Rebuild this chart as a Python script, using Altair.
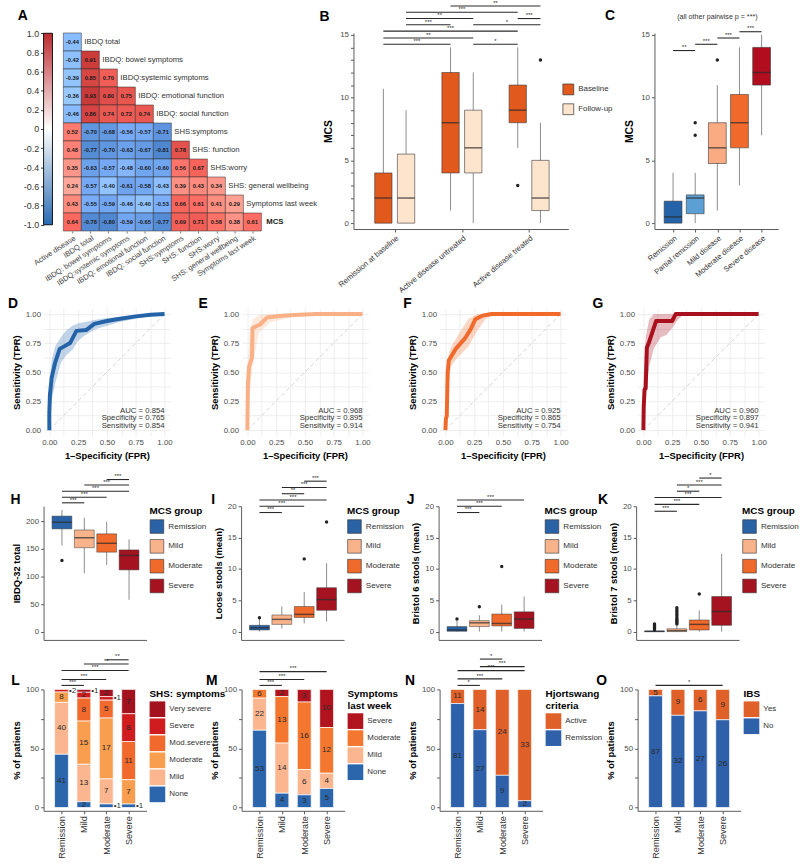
import altair as alt
import pandas as pd

FONT = "Liberation Sans"
INK = "#222222"
TICK_LABEL = "#4d4d4d"
AXIS_LINE = "#5a5a5a"
WHISKER = "#8c8c8c"
BOX_EDGE = "#3a3a3a"
MEDIAN = "#2b2b2b"
SIG = "#2a2a2a"


def lookup_js(names):
    return "[" + ", ".join("'" + n + "'" for n in names) + "]"


def panel_letter(letter, dx, dy):
    """Bold panel tag placed relative to the panel's plot origin."""
    return (alt.Chart(pd.DataFrame({"tag": [letter]}))
            .mark_text(align="left", baseline="alphabetic", fontSize=14, fontWeight="bold", color="black")
            .encode(x=alt.value(dx), y=alt.value(dy), text="tag:N"))


def row_frame(x, y_top, y_bottom):
    """Invisible vertical guide that fixes the left edge and vertical extent of a figure row."""
    return (alt.Chart(pd.DataFrame({"k": [0]}))
            .mark_rule(color="white", strokeWidth=0.5)
            .encode(x=alt.value(x), y=alt.value(y_top), y2=alt.value(y_bottom)))


# ---------------------------------------------------------------- A: correlations
corr_names = ["Active disease", "IBDQ total", "IBDQ: bowel symptoms", "IBDQ:systemic symptoms",
              "IBDQ: emotional function", "IBDQ: social function", "SHS:symptoms", "SHS: function",
              "SHS:worry", "SHS: general wellbeing", "Symptoms last week", "MCS"]
corr_rows = [
    [-0.44],
    [-0.42, 0.91],
    [-0.39, 0.85, 0.70],
    [-0.36, 0.93, 0.80, 0.75],
    [-0.46, 0.86, 0.74, 0.72, 0.74],
    [0.52, -0.70, -0.68, -0.56, -0.57, -0.71],
    [0.48, -0.77, -0.70, -0.63, -0.67, -0.81, 0.78],
    [0.35, -0.63, -0.57, -0.48, -0.60, -0.60, 0.56, 0.67],
    [0.24, -0.57, -0.40, -0.61, -0.58, -0.43, 0.39, 0.43, 0.34],
    [0.43, -0.55, -0.59, -0.46, -0.40, -0.53, 0.66, 0.61, 0.41, 0.29],
    [0.64, -0.78, -0.80, -0.59, -0.65, -0.77, 0.69, 0.71, 0.58, 0.38, 0.61],
]
colorbar_ticks = [-1.0, -0.8, -0.6, -0.4, -0.2, 0.0, 0.2, 0.4, 0.6, 0.8, 1.0]
CORR_BLUE, CORR_WHITE, CORR_RED = "#2b6bb1", "#ffffff", "#bc2c30"

a_cells = pd.DataFrame([{"row": i, "col": j, "r": v, "txt": f"{v:.2f}"}
                        for i, vals in enumerate(corr_rows) for j, v in enumerate(vals)])
a_names = pd.DataFrame({"row": list(range(len(corr_rows))), "name": corr_names[1:]})
a_bar = pd.DataFrame({"lo": [colorbar_ticks[0]], "hi": [colorbar_ticks[-1]]})

col_lookup = lookup_js(corr_names[:-1])
A_X = alt.X("px:Q", scale=alt.Scale(domain=[-1.1, 11.33], nice=False, zero=False),
            axis=alt.Axis(values=[i + 0.5 for i in range(11)],
                          labelExpr=f"{col_lookup}[floor(datum.value)]",
                          labelAngle=-33, labelFontSize=7.5, labelColor="#444444",
                          tickSize=2, tickColor="#777777", domain=False, grid=False,
                          labelPadding=1, labelOverlap=False, labelBound=False),
            title=None)
A_Y = alt.Y("py:Q", scale=alt.Scale(domain=[0, 11], reverse=True, nice=False, zero=False), axis=None)

corr_gradient = alt.LinearGradient(
    gradient="linear",
    stops=[alt.GradientStop(color=CORR_BLUE, offset=0),
           alt.GradientStop(color=CORR_WHITE, offset=0.5),
           alt.GradientStop(color=CORR_RED, offset=1)],
    x1=0, x2=0, y1=1, y2=0)

a_colorbar = (alt.Chart(a_bar)
              .transform_calculate(px="-1.1", px2="-0.605")
              .mark_rect(fill=corr_gradient, stroke="black", strokeWidth=0.9)
              .encode(x=A_X, x2="px2:Q",
                      y=alt.Y("lo:Q", scale=alt.Scale(domain=[-1.065, 1.003], nice=False, zero=False),
                              axis=alt.Axis(orient="left", values=colorbar_ticks,
                                            labelExpr="datum.value == 0 ? '0' : replace(format(datum.value, '.1f'), '\u2212', '-')",
                                            labelFontSize=9, labelColor="#333333", tickSize=3,
                                            tickColor="#333333", domain=False, grid=False, labelPadding=2),
                              title=None),
                      y2="hi:Q"))
a_rects = (alt.Chart(a_cells)
           .transform_calculate(px="datum.col", px2="datum.col + 1", py="datum.row", py2="datum.row + 1")
           .mark_rect(stroke="#2a2a2a", strokeWidth=0.5)
           .encode(x=A_X, x2="px2:Q", y=A_Y, y2="py2:Q",
                   color=alt.Color("r:Q", scale=alt.Scale(domain=[-1, 0, 1], range=[CORR_BLUE, CORR_WHITE, CORR_RED]),
                                   legend=None)))
a_values = (alt.Chart(a_cells)
            .transform_calculate(px="datum.col + 0.5", py="datum.row + 0.5")
            .mark_text(fontSize=5.8, fontWeight="bold", color="#1a1a1a")
            .encode(x=A_X, y=A_Y, text="txt:N"))
a_rowlab = (alt.Chart(a_names)
            .transform_filter("datum.name != 'MCS'")
            .transform_calculate(px="datum.row + 1", py="datum.row + 0.5")
            .mark_text(align="left", dx=3, fontSize=7.8, color="#333333")
            .encode(x=A_X, y=A_Y, text="name:N"))
a_mcslab = (alt.Chart(a_names)
            .transform_filter("datum.name == 'MCS'")
            .transform_calculate(px="datum.row + 1", py="datum.row + 0.5")
            .mark_text(align="left", dx=5, fontSize=7.8, fontWeight="bold", color="#222222")
            .encode(x=A_X, y=A_Y, text="name:N"))
panel_a = (alt.layer(row_frame(-33, -33, 263), a_colorbar, a_rects, a_values, a_rowlab, a_mcslab,
                     panel_letter("A", -26, -13))
           .resolve_scale(y="independent")
           .properties(width=226, height=200))

# ---------------------------------------------------------------- B: MCS by disease course
b_groups = ["Remission at baseline", "Active disease untreated", "Active disease treated"]
b_times = ["Baseline", "Follow-up"]
B_COLORS = ["#e2591d", "#fde4cc"]
b_box_group = ["Remission at baseline", "Remission at baseline",
               "Active disease untreated", "Active disease untreated",
               "Active disease treated", "Active disease treated"]
b_box_time = ["Baseline", "Follow-up", "Baseline", "Follow-up", "Baseline", "Follow-up"]
b_low = [0, 0, 1, 0, 6, 0]
b_q1 = [0, 0, 4, 4, 8, 1]
b_med = [2, 2, 8, 6, 9, 2]
b_q3 = [4, 5.5, 12, 9, 11, 5]
b_high = [10.7, 9, 14, 12, 14, 8]
b_out_group = ["Active disease treated", "Active disease treated"]
b_out_time = ["Baseline", "Follow-up"]
b_out_val = [3, 13]
b_sig = [
    ("Active disease untreated", "Baseline", "Active disease treated", "Follow-up", 17.3, "**"),
    ("Remission at baseline", "Follow-up", "Active disease treated", "Baseline", 16.8, "***"),
    ("Remission at baseline", "Follow-up", "Active disease untreated", "Follow-up", 16.3, "**"),
    ("Active disease treated", "Baseline", "Active disease treated", "Follow-up", 16.3, "***"),
    ("Remission at baseline", "Follow-up", "Active disease untreated", "Baseline", 15.8, "***"),
    ("Active disease untreated", "Follow-up", "Active disease treated", "Follow-up", 15.8, "*"),
    ("Remission at baseline", "Baseline", "Active disease treated", "Baseline", 15.3, "***"),
    ("Remission at baseline", "Baseline", "Active disease untreated", "Follow-up", 14.75, "**"),
    ("Remission at baseline", "Baseline", "Active disease untreated", "Baseline", 14.25, "***"),
    ("Active disease untreated", "Follow-up", "Active disease treated", "Baseline", 14.25, "*"),
]

b_lookup = lookup_js(b_groups)
B_DODGE = 0.169


def b_pos(gf, tf):
    return f"indexof({b_lookup}, datum.{gf}) + 1 + (datum.{tf} == 'Baseline' ? -{B_DODGE} : {B_DODGE})"


B_X = dict(scale=alt.Scale(domain=[0.46, 3.51], nice=False, zero=False),
           axis=alt.Axis(values=[1, 2, 3], labelExpr=f"{b_lookup}[datum.value - 1]", labelAngle=-40,
                         labelFontSize=7.8, labelColor="#333333", tickSize=3, tickColor=AXIS_LINE,
                         domainColor=AXIS_LINE, grid=False, labelPadding=2, labelOverlap=False),
           title=None)


def mcs_y(field, minor):
    vals = list(range(16)) if minor else [0, 5, 10, 15]
    return alt.Y(f"{field}:Q", scale=alt.Scale(domain=[-0.47, 15.15], nice=False, zero=False),
                 axis=alt.Axis(values=vals, labelExpr="datum.value % 5 == 0 ? datum.value : ''",
                               labelFontSize=8, labelColor=TICK_LABEL, tickSize=3, tickColor=AXIS_LINE,
                               domainColor=AXIS_LINE, grid=False, titleFontSize=10.5,
                               titleFontWeight="bold", titlePadding=6, titleColor="black"),
                 title="MCS")


b_stats = pd.DataFrame({"g": b_box_group, "t": b_box_time, "low": b_low, "q1": b_q1,
                        "med": b_med, "q3": b_q3, "high": b_high})
b_base = alt.Chart(b_stats).transform_calculate(pos=b_pos("g", "t"))
b_whisk = b_base.mark_rule(color=WHISKER, strokeWidth=1).encode(
    x=alt.X("pos:Q", **B_X), y=mcs_y("low", True), y2="high:Q")
b_box = b_base.mark_bar(size=17.5, stroke=BOX_EDGE, strokeWidth=0.6, orient="vertical").encode(
    x=alt.X("pos:Q", **B_X), y=mcs_y("q1", True), y2="q3:Q",
    color=alt.Color("t:N", scale=alt.Scale(domain=b_times, range=B_COLORS),
                    legend=alt.Legend(title=None, orient="none", legendX=211, legendY=51,
                                      symbolType="square", symbolSize=120, symbolStrokeColor="#333333",
                                      symbolStrokeWidth=0.7, labelFontSize=8, labelColor="#333333",
                                      rowPadding=6, labelOffset=4)))
b_median = b_base.mark_tick(orient="horizontal", size=17.5, thickness=1.5, color=MEDIAN).encode(
    x=alt.X("pos:Q", **B_X), y=mcs_y("med", True))
b_out = (alt.Chart(pd.DataFrame({"g": b_out_group, "t": b_out_time, "v": b_out_val}))
         .transform_calculate(pos=b_pos("g", "t"))
         .mark_circle(size=12, color=INK, opacity=1)
         .encode(x=alt.X("pos:Q", **B_X), y=mcs_y("v", True)))
b_sig_base = (alt.Chart(pd.DataFrame(b_sig, columns=["g1", "t1", "g2", "t2", "y", "lab"]))
              .transform_calculate(p1=b_pos("g1", "t1"), p2=b_pos("g2", "t2"))
              .transform_calculate(pm="(datum.p1 + datum.p2) / 2"))
b_sig_rule = b_sig_base.mark_rule(color=SIG, strokeWidth=1.1).encode(
    x=alt.X("p1:Q", **B_X), x2="p2:Q", y=mcs_y("y", True))
b_sig_txt = b_sig_base.mark_text(fontSize=6, baseline="bottom", dy=-0.3, color=SIG).encode(
    x=alt.X("pm:Q", **B_X), y=mcs_y("y", True), text="lab:N")
panel_b = (alt.layer(b_whisk, b_box, b_median, b_out, b_sig_rule, b_sig_txt, panel_letter("B", -34.3, -12.3))
           .properties(width=217, height=198))

# ---------------------------------------------------------------- C: MCS by physician global
c_groups = ["Remission", "Partial remission", "Mild disease", "Moderate disease", "Severe disease"]
C_COLORS = ["#2563a8", "#5b9fd5", "#fbab82", "#f26a2b", "#b20d1f"]
c_low = [0, 0, 1, 3, 7]
c_q1 = [0, 0.75, 4.75, 6, 11]
c_med = [0.5, 2, 6, 8, 12]
c_q3 = [1.75, 2.25, 8, 10.25, 14]
c_high = [4, 4, 11, 14, 15]
c_out_group = ["Partial remission", "Partial remission", "Mild disease"]
c_out_val = [7, 8, 13]
c_sig = [
    ("Remission", "Partial remission", 13.75, "**"),
    ("Partial remission", "Mild disease", 14.25, "***"),
    ("Mild disease", "Moderate disease", 14.75, "***"),
    ("Moderate disease", "Severe disease", 15.25, "***"),
]
c_note = "(all other pairwise p = ***)"
c_lookup = lookup_js(c_groups)


def c_pos(f):
    return f"indexof({c_lookup}, datum.{f}) + 1"


C_X = dict(scale=alt.Scale(domain=[0.383, 5.527], nice=False, zero=False),
           axis=alt.Axis(values=[1, 2, 3, 4, 5], labelExpr=f"{c_lookup}[datum.value - 1]", labelAngle=-40,
                         labelFontSize=7.6, labelColor="#333333", tickSize=3, tickColor=AXIS_LINE,
                         domainColor=AXIS_LINE, grid=False, labelPadding=2, labelOverlap=False),
           title=None)
c_stats = pd.DataFrame({"g": c_groups, "low": c_low, "q1": c_q1, "med": c_med, "q3": c_q3, "high": c_high})
c_base = alt.Chart(c_stats).transform_calculate(pos=c_pos("g"))
c_whisk = c_base.mark_rule(color=WHISKER, strokeWidth=1).encode(
    x=alt.X("pos:Q", **C_X), y=mcs_y("low", False), y2="high:Q")
c_box = c_base.mark_bar(size=18, stroke=BOX_EDGE, strokeWidth=0.6, orient="vertical").encode(
    x=alt.X("pos:Q", **C_X), y=mcs_y("q1", False), y2="q3:Q",
    color=alt.Color("g:N", scale=alt.Scale(domain=c_groups, range=C_COLORS), legend=None))
c_median = c_base.mark_tick(orient="horizontal", size=18, thickness=1.5, color=MEDIAN).encode(
    x=alt.X("pos:Q", **C_X), y=mcs_y("med", False))
c_out = (alt.Chart(pd.DataFrame({"g": c_out_group, "v": c_out_val}))
         .transform_calculate(pos=c_pos("g"))
         .mark_circle(size=12, color=INK, opacity=1)
         .encode(x=alt.X("pos:Q", **C_X), y=mcs_y("v", False)))
c_sig_base = (alt.Chart(pd.DataFrame(c_sig, columns=["g1", "g2", "y", "lab"]))
              .transform_calculate(p1=c_pos("g1"), p2=c_pos("g2"))
              .transform_calculate(pm="(datum.p1 + datum.p2) / 2"))
c_sig_rule = c_sig_base.mark_rule(color=SIG, strokeWidth=1.1).encode(
    x=alt.X("p1:Q", **C_X), x2="p2:Q", y=mcs_y("y", False))
c_sig_txt = c_sig_base.mark_text(fontSize=6, baseline="bottom", dy=-0.3, color=SIG).encode(
    x=alt.X("pm:Q", **C_X), y=mcs_y("y", False), text="lab:N")
c_note_txt = (alt.Chart(pd.DataFrame({"note": [c_note]}))
              .transform_calculate(pos="3", yv="16.4")
              .mark_text(fontSize=7.2, color="#333333")
              .encode(x=alt.X("pos:Q", **C_X), y=mcs_y("yv", False), text="note:N"))
panel_c = (alt.layer(c_whisk, c_box, c_median, c_out, c_sig_rule, c_sig_txt, c_note_txt,
                     panel_letter("C", -50, -13))
           .properties(width=125, height=198))

# ---------------------------------------------------------------- D-G: ROC curves
ROC_GRID = [0.0, 0.125, 0.25, 0.375, 0.5, 0.625, 0.75, 0.875, 1.0]

roc_curves = {
    "D": dict(fpr=[0.0, 0.0, 0.005, 0.02, 0.05, 0.09, 0.18, 0.235, 0.32, 0.39, 0.5, 0.6, 0.75, 0.88, 1.0],
              tpr=[0.0, 0.15, 0.30, 0.45, 0.58, 0.70, 0.75, 0.855, 0.862, 0.915, 0.94, 0.957, 0.98, 0.994, 1.0],
              bfpr=[0.0, 0.02, 0.05, 0.1, 0.15, 0.2, 0.25, 0.3, 0.4, 0.5, 0.6, 0.75, 0.9, 1.0],
              blo=[0.0, 0.25, 0.40, 0.58, 0.65, 0.69, 0.77, 0.81, 0.87, 0.9, 0.93, 0.96, 0.985, 1.0],
              bhi=[0.35, 0.6, 0.72, 0.8, 0.86, 0.9, 0.92, 0.93, 0.95, 0.965, 0.975, 0.99, 1.0, 1.0],
              color="#2563a8", auc=0.854, spec=0.765, sens=0.854, dx=-36),
    "E": dict(fpr=[0.0, 0.005, 0.015, 0.04, 0.045, 0.11, 0.17, 0.3, 0.45, 0.6, 1.0],
              tpr=[0.0, 0.40, 0.55, 0.62, 0.88, 0.91, 0.97, 0.986, 0.994, 1.0, 1.0],
              bfpr=[0.0, 0.02, 0.045, 0.1, 0.2, 0.4, 0.6, 1.0],
              blo=[0.0, 0.3, 0.55, 0.84, 0.93, 0.975, 0.99, 1.0],
              bhi=[0.45, 0.85, 0.95, 0.99, 1.0, 1.0, 1.0, 1.0],
              color="#f9b086", auc=0.968, spec=0.895, sens=0.914, dx=-43.5),
    "F": dict(fpr=[0.0, 0.005, 0.012, 0.02, 0.03, 0.09, 0.17, 0.22, 0.26, 0.32, 0.4, 1.0],
              tpr=[0.0, 0.10, 0.12, 0.50, 0.60, 0.70, 0.79, 0.87, 0.955, 0.986, 1.0, 1.0],
              bfpr=[0.0, 0.02, 0.05, 0.1, 0.2, 0.28, 0.35, 0.45, 1.0],
              blo=[0.0, 0.35, 0.55, 0.62, 0.72, 0.86, 0.96, 1.0, 1.0],
              bhi=[0.15, 0.62, 0.72, 0.80, 0.96, 1.0, 1.0, 1.0, 1.0],
              color="#f06a2c", auc=0.925, spec=0.865, sens=0.754, dx=-36.8),
    "G": dict(fpr=[0.0, 0.003, 0.01, 0.02, 0.03, 0.05, 0.11, 0.25, 0.28, 1.0],
              tpr=[0.0, 0.20, 0.35, 0.36, 0.71, 0.76, 0.94, 0.94, 1.0, 1.0],
              bfpr=[0.0, 0.02, 0.05, 0.09, 0.15, 0.2, 0.25, 0.3, 0.35, 1.0],
              blo=[0.0, 0.3, 0.55, 0.7, 0.8, 0.82, 0.88, 0.95, 1.0, 1.0],
              bhi=[0.4, 0.8, 0.95, 1.0, 1.0, 1.0, 1.0, 1.0, 1.0, 1.0],
              color="#a8101e", auc=0.960, spec=0.897, sens=0.941, dx=-45.5),
}


def roc_axis():
    return alt.Axis(values=ROC_GRID, labelExpr="(datum.value * 4) % 1 == 0 ? format(datum.value, '.2f') : ''",
                    grid=True, gridColor="#e6e6e6", gridWidth=0.7, ticks=False, domain=False,
                    labelFontSize=8, labelColor=TICK_LABEL, titleFontSize=9.5, titleFontWeight="bold",
                    titleColor="black", labelFlush=False, labelPadding=3, titlePadding=4)


def roc_panel(letter, spec, first):
    rx = lambda f: alt.X(f"{f}:Q", scale=alt.Scale(domain=[-0.05, 1.05], nice=False, zero=False),
                         axis=roc_axis(), title="1\u2013Specificity (FPR)")
    ry = lambda f: alt.Y(f"{f}:Q", scale=alt.Scale(domain=[-0.05, 1.05], nice=False, zero=False),
                         axis=roc_axis(), title="Sensitivity (TPR)")
    curve = pd.DataFrame({"fpr": spec["fpr"], "tpr": spec["tpr"], "step": list(range(len(spec["fpr"])))})
    band = pd.DataFrame({"fpr": spec["bfpr"], "lo": spec["blo"], "hi": spec["bhi"]})
    chance = pd.DataFrame({"a": [0.0], "b": [1.0]})
    note = pd.DataFrame({"txt": [f"AUC = {spec['auc']:.3f}\nSpecificity = {spec['spec']:.3f}\n"
                                 f"Sensitivity = {spec['sens']:.3f}"]})
    area = alt.Chart(band).mark_area(color=spec["color"], opacity=0.28).encode(
        x=rx("fpr"), y=ry("lo"), y2="hi:Q")
    diag = alt.Chart(chance).mark_rule(color="#c8c8c8", strokeDash=[4, 3], strokeWidth=0.8).encode(
        x=rx("a"), y=ry("a"), x2="b:Q", y2="b:Q")
    line = alt.Chart(curve).mark_line(color=spec["color"], strokeWidth=4, strokeJoin="round").encode(
        x=rx("fpr"), y=ry("tpr"), order="step:Q")
    txt = (alt.Chart(note).transform_calculate(px="1.0", py="0.152")
           .mark_text(align="right", baseline="alphabetic", lineBreak="\n", fontSize=7.8, lineHeight=7.7,
                      color="#333333")
           .encode(x=rx("px"), y=ry("py"), text="txt:N"))
    layers = [diag, area, line, txt, panel_letter(letter, spec["dx"], -0.7)]
    if first:
        layers.insert(0, row_frame(-43.5, -13, 159))
    return alt.layer(*layers).properties(width=128, height=129)


panels_roc = [roc_panel(k, v, i == 0) for i, (k, v) in enumerate(roc_curves.items())]

# ---------------------------------------------------------------- H-K: outcomes by MCS group
MCS_GROUPS = ["Remission", "Mild", "Moderate", "Severe"]
MCS_COLORS = ["#2a62a6", "#f8b38b", "#f06a2c", "#a51321"]
MCS_LOOKUP = lookup_js(MCS_GROUPS)

box_panels = {
    "H": dict(ytitle="IBDQ-32 total", ydom=[-14.3, 226.8], yvals=[0, 50, 100, 150, 200], dx=-33.3,
              low=[156, 106, 121, 58], q1=[186, 152, 144, 112], med=[198, 170, 160, 138],
              q3=[209, 184, 177, 148], high=[220, 206, 199, 167],
              out_g=["Remission"], out_v=[129],
              sig=[("Remission", "Mild", 233, "***"), ("Remission", "Moderate", 243, "***"),
                   ("Remission", "Severe", 254, "***"), ("Mild", "Severe", 265, "***"),
                   ("Moderate", "Severe", 275, "***")]),
    "I": dict(ytitle="Loose stools (mean)", ydom=[-1.33, 20], yvals=[0, 5, 10, 15, 20], dx=-30.2,
              low=[0, 0.5, 1.3, 1.6], q1=[0.25, 1.15, 2.25, 3.4], med=[0.6, 1.95, 2.75, 5.1],
              q3=[1.0, 2.65, 4.0, 7.0], high=[2.0, 4.0, 6.3, 10.9],
              out_g=["Remission", "Moderate", "Severe"], out_v=[2.2, 11.6, 17.5],
              sig=[("Remission", "Mild", 19, "***"), ("Remission", "Moderate", 20, "***"),
                   ("Remission", "Severe", 21, "***"), ("Mild", "Moderate", 22, "**"),
                   ("Mild", "Severe", 23, "***"), ("Moderate", "Severe", 24, "***")]),
    "J": dict(ytitle="Bristol 6 stools (mean)", ydom=[-1.33, 20], yvals=[0, 5, 10, 15, 20], dx=-32.3,
              low=[0, 0, 0, 0], q1=[0.05, 0.8, 0.9, 0.5], med=[0.25, 1.4, 1.3, 2.0],
              q3=[0.8, 1.75, 2.8, 3.15], high=[1.7, 2.6, 4.3, 5.6],
              out_g=["Remission", "Mild", "Moderate"], out_v=[2.0, 3.95, 10.4],
              sig=[("Remission", "Mild", 19, "***"), ("Remission", "Moderate", 20, "***"),
                   ("Remission", "Severe", 21, "***")]),
    "K": dict(ytitle="Bristol 7 stools (mean)", ydom=[-1.33, 20], yvals=[0, 5, 10, 15, 20], dx=-38.5,
              low=[0, 0, 0, 0], q1=[0, 0, 0.25, 1.0], med=[0.03, 0.15, 1.15, 3.2],
              q3=[0.1, 0.45, 1.85, 5.6], high=[0.2, 1.0, 3.4, 12.4],
              out_g=["Remission"] * 7 + ["Mild"] * 11 + ["Moderate"],
              out_v=[0.3, 0.45, 0.6, 0.75, 0.9, 1.05, 1.2,
                     1.2, 1.4, 1.6, 1.8, 2.0, 2.3, 2.6, 2.9, 3.2, 3.5, 3.8, 6.0],
              sig=[("Remission", "Mild", 19.2, "***"), ("Remission", "Moderate", 20.3, "***"),
                   ("Remission", "Severe", 21.4, "***"), ("Mild", "Moderate", 22.4, "*"),
                   ("Mild", "Severe", 23.4, "***"), ("Moderate", "Severe", 24.5, "*")]),
}


def g_pos(f):
    return f"indexof({MCS_LOOKUP}, datum.{f}) + 1"


def mcs_legend(title):
    return alt.Legend(title=title, orient="right", offset=3, titleFontSize=10, titleFontWeight="bold",
                      titleColor="black", labelFontSize=8.2, labelColor="#333333", symbolType="square",
                      symbolSize=190, symbolStrokeColor="#333333", symbolStrokeWidth=0.6,
                      rowPadding=3, titlePadding=3, labelOffset=4)


def box_panel(letter, p, first):
    bx = lambda f: alt.X(f"{f}:Q", scale=alt.Scale(domain=[0.4, 4.56], nice=False, zero=False),
                         axis=alt.Axis(values=[1, 2, 3, 4], labels=False, ticks=False, domainColor=AXIS_LINE,
                                       domainWidth=1, grid=False), title=None)
    by = lambda f: alt.Y(f"{f}:Q", scale=alt.Scale(domain=p["ydom"], nice=False, zero=False),
                         axis=alt.Axis(values=p["yvals"], labelFontSize=8, labelColor=TICK_LABEL, tickSize=3,
                                       tickColor=AXIS_LINE, domainColor=AXIS_LINE, domainWidth=1, grid=False,
                                       titleFontSize=9.5, titleFontWeight="bold", titleColor="black",
                                       titlePadding=4),
                         title=p["ytitle"])
    stats = pd.DataFrame({"g": MCS_GROUPS, "low": p["low"], "q1": p["q1"], "med": p["med"],
                          "q3": p["q3"], "high": p["high"]})
    base = alt.Chart(stats).transform_calculate(pos=g_pos("g"))
    whisk = base.mark_rule(color=WHISKER, strokeWidth=1).encode(x=bx("pos"), y=by("low"), y2="high:Q")
    box = base.mark_bar(size=20, stroke=BOX_EDGE, strokeWidth=0.5, orient="vertical").encode(
        x=bx("pos"), y=by("q1"), y2="q3:Q",
        color=alt.Color("g:N", scale=alt.Scale(domain=MCS_GROUPS, range=MCS_COLORS),
                        legend=mcs_legend("MCS group")))
    med = base.mark_tick(orient="horizontal", size=20, thickness=1.5, color=MEDIAN).encode(
        x=bx("pos"), y=by("med"))
    outs = (alt.Chart(pd.DataFrame({"g": p["out_g"], "v": p["out_v"]}))
            .transform_calculate(pos=g_pos("g"))
            .mark_circle(size=12, color=INK, opacity=1)
            .encode(x=bx("pos"), y=by("v")))
    sig = (alt.Chart(pd.DataFrame(p["sig"], columns=["g1", "g2", "y", "lab"]))
           .transform_calculate(p1=g_pos("g1"), p2=g_pos("g2"))
           .transform_calculate(pm="(datum.p1 + datum.p2) / 2"))
    sig_rule = sig.mark_rule(color=SIG, strokeWidth=1.1).encode(x=bx("p1"), x2="p2:Q", y=by("y"))
    sig_txt = sig.mark_text(fontSize=6, baseline="bottom", dy=-0.3, color=SIG).encode(
        x=bx("pm"), y=by("y"), text="lab:N")
    layers = [whisk, box, med, outs, sig_rule, sig_txt, panel_letter(letter, p["dx"], -2.7)]
    if first:
        layers.insert(0, row_frame(-40, -39, 141))
    return alt.layer(*layers).properties(width=104, height=135)


panels_box = [box_panel(k, v, i == 0) for i, (k, v) in enumerate(box_panels.items())]

# ---------------------------------------------------------------- L-O: composition by MCS group
bar_panels = {
    "L": dict(title="SHS: symptoms", dx=-32.7,
              cats=["Very severe", "Severe", "Mod.severe", "Moderate", "Mild", "None"],
              colors=["#a3121f", "#d01c1f", "#f2692d", "#f99d4f", "#fcb68f", "#2b66ad"],
              counts=[[0, 2, 0, 8, 40, 41],
                      [1, 2, 8, 15, 13, 2],
                      [2, 1, 5, 17, 7, 1],
                      [7, 8, 11, 7, 0, 1]],
              sig=[("Remission", "Mild", 103.4, "***"), ("Remission", "Moderate", 108.4, "***"),
                   ("Remission", "Severe", 116.0, "***"), ("Mild", "Severe", 121.5, "**"),
                   ("Moderate", "Severe", 125.1, "**")]),
    "M": dict(title=["Symptoms", "last week"], dx=-36,
              cats=["Severe", "Moderate", "Mild", "None"],
              colors=["#b1141f", "#f4772f", "#fcb68f", "#2b66ad"],
              counts=[[0, 6, 22, 53],
                      [2, 13, 14, 4],
                      [3, 16, 6, 3],
                      [10, 12, 4, 5]],
              sig=[("Remission", "Mild", 103.4, "***"), ("Remission", "Moderate", 108.4, "***"),
                   ("Remission", "Severe", 115.1, "***")]),
    "N": dict(title=["Hjortswang", "criteria"], dx=-35,
              cats=["Active", "Remission"],
              colors=["#e0602a", "#2e61aa"],
              counts=[[11, 81], [14, 27], [24, 9], [33, 2]],
              sig=[("Remission", "Mild", 103.4, "*"), ("Remission", "Moderate", 108.9, "***"),
                   ("Remission", "Severe", 115.9, "***"), ("Mild", "Severe", 119.3, "***"),
                   ("Mild", "Moderate", 125.7, "*")]),
    "O": dict(title="IBS", dx=-41.7,
              cats=["Yes", "No"],
              colors=["#e0602a", "#2e61aa"],
              counts=[[5, 87], [9, 32], [6, 27], [9, 26]],
              sig=[("Remission", "Severe", 103.4, "*")]),
}


def bar_panel(letter, p, first):
    sx = lambda f: alt.X(f"{f}:Q", scale=alt.Scale(domain=[0.42, 4.58], nice=False, zero=False),
                         axis=alt.Axis(values=[1, 2, 3, 4], labelExpr=f"{MCS_LOOKUP}[datum.value - 1]",
                                       labelAngle=-90, labelFontSize=9.2, labelColor="#333333", tickSize=3,
                                       tickColor=AXIS_LINE, domainColor=AXIS_LINE, domainWidth=1, grid=False,
                                       labelPadding=2), title=None)
    sy = lambda f: alt.Y(f"{f}:Q", scale=alt.Scale(domain=[-2.8, 100], nice=False, zero=False),
                         axis=alt.Axis(values=[0, 25, 50, 75, 100],
                                       labelExpr="datum.value % 50 == 0 ? datum.value : ''",
                                       labelFontSize=8, labelColor=TICK_LABEL, tickSize=3, tickColor=AXIS_LINE,
                                       domainColor=AXIS_LINE, domainWidth=1, grid=False, titleFontSize=9.5,
                                       titleFontWeight="bold", titleColor="black", titlePadding=4),
                         title="% of patients")
    recs = []
    for g, cnts in zip(MCS_GROUPS, p["counts"]):
        for rank, (cat, n) in enumerate(zip(p["cats"], cnts)):
            if n > 0:
                recs.append({"g": g, "cat": cat, "rank": rank, "n": n})
    base = (alt.Chart(pd.DataFrame(recs))
            .transform_joinaggregate(total="sum(n)", groupby=["g"])
            .transform_calculate(pct="datum.n / datum.total * 100", pos=g_pos("g"))
            .transform_stack(stack="pct", groupby=["g"], as_=["y0", "y1"],
                             sort=[alt.SortField("rank", order="descending")])
            .transform_calculate(mid="(datum.y0 + datum.y1) / 2"))
    bars = base.mark_bar(size=14, stroke="white", strokeWidth=0.7, orient="vertical").encode(
        x=sx("pos"), y=sy("y0"), y2="y1:Q",
        color=alt.Color("cat:N", scale=alt.Scale(domain=p["cats"], range=p["colors"]),
                        legend=alt.Legend(title=p["title"], orient="right", offset=3, titleFontSize=10,
                                          titleFontWeight="bold", titleColor="black", labelFontSize=8,
                                          labelColor="#333333", symbolType="square", symbolSize=250,
                                          symbolStrokeWidth=0, rowPadding=1.2, titlePadding=2,
                                          labelOffset=4)))
    inside = base.transform_filter("datum.pct >= 4").mark_text(fontSize=8.2, color="#2a2a2a").encode(
        x=sx("pos"), y=sy("mid"), text="n:Q")
    outside = (base.transform_filter("datum.pct < 4")
               .transform_calculate(lbl="'\u2022' + datum.n")
               .mark_text(fontSize=8, align="left", dx=7.5, color="#2a2a2a")
               .encode(x=sx("pos"), y=sy("mid"), text="lbl:N"))
    sig = (alt.Chart(pd.DataFrame(p["sig"], columns=["g1", "g2", "y", "lab"]))
           .transform_calculate(p1=g_pos("g1"), p2=g_pos("g2"))
           .transform_calculate(pm="(datum.p1 + datum.p2) / 2"))
    sig_rule = sig.mark_rule(color=SIG, strokeWidth=1.1).encode(x=sx("p1"), x2="p2:Q", y=sy("y"))
    sig_txt = sig.mark_text(fontSize=6, baseline="bottom", dy=-0.3, color=SIG).encode(
        x=sx("pm"), y=sy("y"), text="lab:N")
    layers = [bars, inside, outside, sig_rule, sig_txt, panel_letter(letter, p["dx"], -4)]
    if first:
        layers.insert(0, row_frame(-40, -42.7, 100))
    return alt.layer(*layers).properties(width=104, height=122.6)


panels_bar = [bar_panel(k, v, i == 0) for i, (k, v) in enumerate(bar_panels.items())]

# ---------------------------------------------------------------- assemble
row1 = alt.hconcat(panel_a, panel_b, panel_c, spacing=87, bounds="flush").resolve_scale(color="independent")
row2 = alt.hconcat(*panels_roc, spacing=72, bounds="flush").resolve_scale(color="independent")
row3 = alt.hconcat(*panels_box, spacing=95.5, bounds="flush").resolve_scale(color="independent")
row4 = alt.hconcat(*panels_bar, spacing=96, bounds="flush").resolve_scale(color="independent")

chart = (alt.concat(row1, row2, row3, row4, columns=1, align="none", spacing=0)
         .resolve_scale(color="independent")
         .properties(padding={"left": 0, "top": -5, "right": 0, "bottom": 0}, background="white")
         .configure_view(stroke=None)
         .configure_axis(labelFont=FONT, titleFont=FONT)
         .configure_legend(labelFont=FONT, titleFont=FONT)
         .configure_text(font=FONT))

chart.save("out.html", embed_options={"renderer": "svg", "actions": False})
